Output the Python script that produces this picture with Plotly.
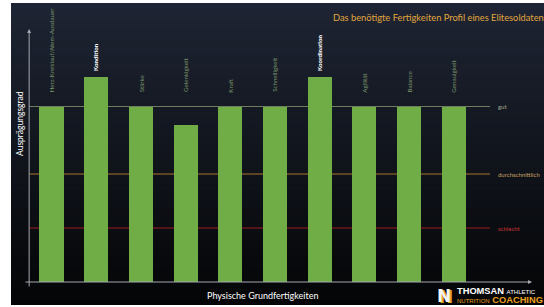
import plotly.graph_objects as go

# ---- data ----
categories = ["Herz-Kreislauf/Atem-Ausdauer", "Kondition", "Stärke", "Gelenkigkeit", "Kraft",
              "Schnelligkeit", "Koordination", "Agilität", "Balance", "Genauigkeit"]
values = [6.5, 7.6, 6.5, 5.8, 6.5, 6.5, 7.6, 6.5, 6.5, 6.5]
highlighted = [False, True, False, False, False, False, True, False, False, False]
level_names = ["gut", "durchschnittlich", "schlecht"]
level_values = [6.5, 4.0, 2.0]
level_line_colors = ["#6f7d5f", "#a8742e", "#9a1c1c"]
level_text_colors = ["#a3aa92", "#c9a063", "#c83232"]

title_text = "Das benötigte Fertigkeiten Profil eines Elitesoldaten"
x_title = "Physische Grundfertigkeiten"
y_title = "Ausprägungsgrad"

W, H = 544, 307
FONT = "Lato"

x = list(range(len(categories)))

fig = go.Figure()

# background gradient bands (styling)
top = (0x1e, 0x24, 0x33)
bot = (0x04, 0x05, 0x06)
py_top, py_bot = 3, 305
n = 50
for k in range(n):
    t = k / (n - 1)
    c = tuple(int(round(top[j] + (bot[j] - top[j]) * t)) for j in range(3))
    p0 = py_top + k * (py_bot - py_top) / n
    p1 = py_top + (k + 1) * (py_bot - py_top) / n + (1.5 if k < n - 1 else 0)
    fig.add_shape(type="rect", xref="paper", yref="paper", x0=11 / W, x1=1,
                  y0=1 - p1 / H, y1=1 - p0 / H,
                  fillcolor="rgb(%d,%d,%d)" % c, line_width=0, layer="below")

fig.add_trace(go.Bar(x=x, y=values, width=0.54, marker=dict(color="#70ad47", line_width=0),
                     hoverinfo="skip"))

# level lines
for name, v, lc, tc in zip(level_names, level_values, level_line_colors, level_text_colors):
    fig.add_shape(type="line", xref="x", yref="y", x0=-0.5, x1=9.81, y0=v, y1=v,
                  line=dict(color=lc, width=1), layer="below")
    fig.add_annotation(x=9.95, y=v, xref="x", yref="y", text=name, showarrow=False,
                       xanchor="left", yanchor="middle", font=dict(family=FONT, size=6, color=tc))

# bar labels
gut = level_values[0]
for i, (c, v, h) in enumerate(zip(categories, values, highlighted)):
    ly = v + 0.15 if h else max(v, gut) + 0.45
    fig.add_annotation(x=i, y=ly, xref="x", yref="y",
                       text=("<b>%s</b>" % c) if h else c, textangle=-90, showarrow=False,
                       xanchor="center", yanchor="bottom",
                       font=dict(family=FONT, size=6.2, color="#ffffff" if h else "#7a9468"))

# axes with arrows
axis_col = "#a4a8b0"
fig.add_annotation(x=-0.5, y=9.37, ax=-0.5, ay=-0.22, xref="x", yref="y", axref="x", ayref="y",
                   text="", showarrow=True, arrowhead=2, arrowsize=0.8, arrowwidth=1, arrowcolor=axis_col)
fig.add_annotation(x=10.75, y=0, ax=-0.615, ay=0, xref="x", yref="y", axref="x", ayref="y",
                   text="", showarrow=True, arrowhead=2, arrowsize=0.8, arrowwidth=1, arrowcolor=axis_col)

# titles
fig.add_annotation(x=331 / W, y=1 - 17 / H, xref="paper", yref="paper", text=title_text,
                   showarrow=False, xanchor="left", yanchor="middle",
                   font=dict(family=FONT, size=9.3, color="#e2a63e"))
fig.add_annotation(x=20 / W, y=1 - 124 / H, xref="paper", yref="paper", text=y_title,
                   textangle=-90, showarrow=False, xanchor="center", yanchor="middle",
                   font=dict(family=FONT, size=8.5, color="#ffffff"))
fig.add_annotation(x=263 / W, y=1 - 295 / H, xref="paper", yref="paper", text=x_title,
                   showarrow=False, xanchor="center", yanchor="middle",
                   font=dict(family=FONT, size=9, color="#ffffff"))

# logo
fig.add_annotation(x=444 / W, y=1 - 296 / H, xref="paper", yref="paper", text="<b>N</b>",
                   showarrow=False, xanchor="center", yanchor="middle",
                   font=dict(family="DejaVu Sans", size=17, color="#f4f4f4",
                             shadow="2px 1px 0px #e0a030"))
fig.add_annotation(x=455 / W, y=1 - 291 / H, xref="paper", yref="paper",
                   text="<b>THOMSAN</b> <span style='font-size:6px'>ATHLETIC</span>",
                   showarrow=False, xanchor="left", yanchor="middle",
                   font=dict(family="Liberation Sans", size=9.3, color="#ffffff"))
fig.add_annotation(x=455 / W, y=1 - 300 / H, xref="paper", yref="paper",
                   text="<span style='font-size:6px'>NUTRITION</span> <b>COACHING</b>",
                   showarrow=False, xanchor="left", yanchor="middle",
                   font=dict(family="Liberation Sans", size=9.3, color="#e8a020"))

fig.update_layout(
    width=W, height=H, margin=dict(l=0, r=0, t=0, b=0),
    paper_bgcolor="#ffffff", plot_bgcolor="rgba(0,0,0,0)", showlegend=False,
    xaxis=dict(range=[-51.5 / 44.7, (W - 51.5) / 44.7], domain=[0, 1], visible=False, fixedrange=True),
    yaxis=dict(range=[-25 / 27, 282 / 27], domain=[0, 1], visible=False, fixedrange=True),
    bargap=0,
)

fig.write_html("out.html", config={"displayModeBar": False},
               post_script="document.body.style.margin='0';document.body.style.overflow='hidden';")
